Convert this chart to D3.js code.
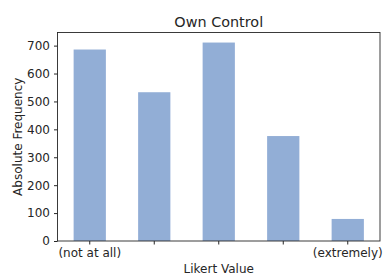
<!DOCTYPE html>
<html>
<head>
<meta charset="utf-8">
<script src="https://cdn.jsdelivr.net/npm/d3@7"></script>
<style>
  body { margin: 0; background: #fff; }
  svg text { font-family: "DejaVu Sans", sans-serif; }
</style>
</head>
<body>
<div id="chart"></div>
<script>
const categories = [1, 2, 3, 4, 5];
const counts = [686, 533, 711, 376, 79];
const tickLabels = ['(not at all)', '', '', '', '(extremely)'];
const yTicks = [0, 100, 200, 300, 400, 500, 600, 700];

const width = 384;
const height = 276;
const plotLeft = 57.5, plotRight = 380, plotTop = 32.5, plotBottom = 241;
const font = '"DejaVu Sans", sans-serif';

const svg = d3.select('#chart')
    .append('svg')
    .attr('width', width)
    .attr('height', height);

const x = d3.scaleBand()
    .domain(categories)
    .range([plotLeft, plotRight])
    .paddingInner(0.5)
    .paddingOuter(0.25);

const y = d3.scaleLinear()
    .domain([0, 747])
    .range([plotBottom, plotTop]);

svg.selectAll('rect.bar').data(counts).enter()
    .append('rect')
    .attr('x', (d, i) => x(categories[i]))
    .attr('y', d => y(d))
    .attr('width', x.bandwidth())
    .attr('height', d => plotBottom - y(d))
    .attr('fill', '#92aed6');

const xAxis = d3.axisBottom(x)
    .tickSize(3.5)
    .tickPadding(3.5)
    .tickFormat((d, i) => tickLabels[i]);
const yAxis = d3.axisLeft(y)
    .tickValues(yTicks)
    .tickSize(3.5)
    .tickPadding(4);

const gx = svg.append('g').attr('transform', 'translate(0,' + plotBottom + ')').call(xAxis);
const gy = svg.append('g').attr('transform', 'translate(' + plotLeft + ',0)').call(yAxis);

[gx, gy].forEach(g => {
    g.attr('font-family', font).attr('font-size', 12);
    g.select('.domain').remove();
    g.selectAll('text').attr('fill', '#262626');
    g.selectAll('line').attr('stroke', '#262626');
});

// frame
svg.append('rect')
    .attr('x', plotLeft)
    .attr('y', plotTop)
    .attr('width', plotRight - plotLeft)
    .attr('height', plotBottom - plotTop)
    .attr('fill', 'none')
    .attr('stroke', '#262626')
    .attr('stroke-width', 0.9);

svg.append('text')
    .attr('x', (plotLeft + plotRight) / 2)
    .attr('y', 26.5)
    .attr('text-anchor', 'middle')
    .attr('font-size', 14.4)
    .attr('fill', '#262626')
    .text('Own Control');

svg.append('text')
    .attr('x', (plotLeft + plotRight) / 2)
    .attr('y', 272.5)
    .attr('text-anchor', 'middle')
    .attr('font-size', 12)
    .attr('fill', '#262626')
    .text('Likert Value');

svg.append('text')
    .attr('transform', 'translate(21.5,' + (plotTop + plotBottom) / 2 + ') rotate(-90)')
    .attr('text-anchor', 'middle')
    .attr('font-size', 12)
    .attr('fill', '#262626')
    .text('Absolute Frequency');
</script>
</body>
</html>
